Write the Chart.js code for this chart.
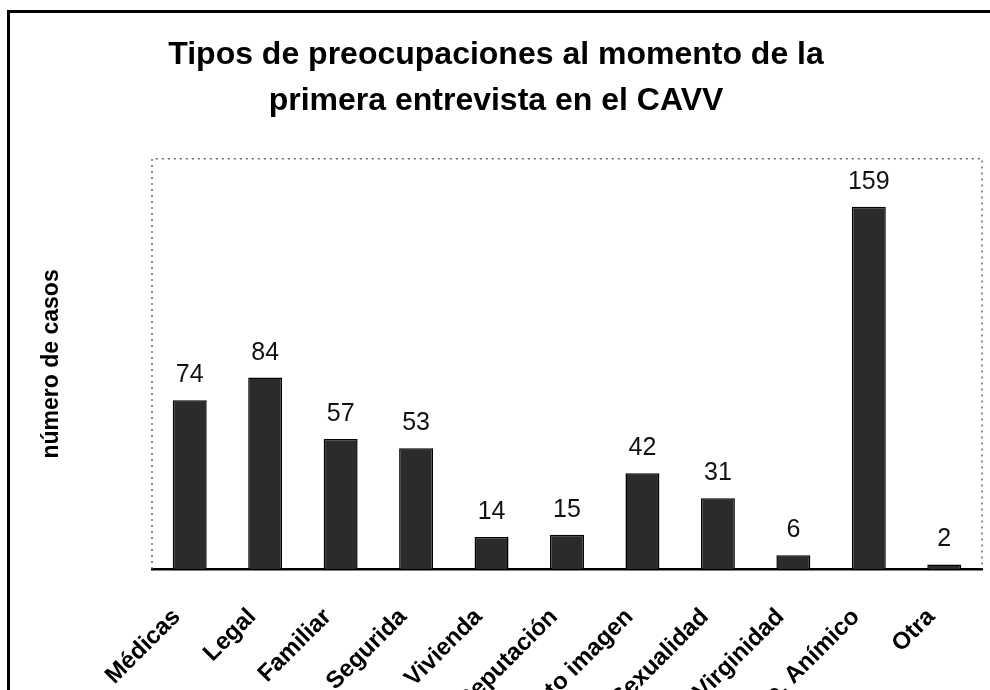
<!DOCTYPE html>
<html>
<head>
<meta charset="utf-8">
<script src="https://cdn.jsdelivr.net/npm/chart.js@4.4.0/dist/chart.umd.min.js"></script>
<style>
body{margin:0;background:#fff;overflow:hidden}
#marco{position:absolute;left:7px;top:10px;width:983px;height:800px;border-left:3px solid #000;border-top:3px solid #000}
#canvas{position:absolute;left:0;top:0}
</style>
</head>
<body>
<div id="marco"><canvas id="canvas" width="980" height="780"></canvas></div>
<script>
let categorias=['Médicas','Legal','Familiar','Segurida','Vivienda','Reputación','Auto imagen','Sexualidad','Virginidad','Edo. Anímico','Otra']
let casos=[74,84,57,53,14,15,42,31,6,159,2]
let canvas=document.getElementById('canvas')

// marco punteado del area de trazado
let marcoPunteado={
    id:'marcoPunteado',
    beforeDatasetsDraw(chart){
        let a=chart.chartArea
        let ctx=chart.ctx
        ctx.save()
        ctx.strokeStyle='#666'
        ctx.lineWidth=1.5
        ctx.setLineDash([2,4])
        ctx.beginPath()
        ctx.moveTo(a.left,a.bottom)
        ctx.lineTo(a.left,a.top)
        ctx.lineTo(a.right,a.top)
        ctx.lineTo(a.right,a.bottom)
        ctx.stroke()
        ctx.restore()
    }
}

// numeros encima de cada barra
let valores={
    id:'valores',
    afterDatasetsDraw(chart){
        let ctx=chart.ctx
        ctx.save()
        ctx.font='25px "Liberation Sans", Arial, sans-serif'
        ctx.fillStyle='#111'
        ctx.textAlign='center'
        ctx.textBaseline='alphabetic'
        chart.getDatasetMeta(0).data.forEach((bar,i)=>{
            ctx.fillText(casos[i],bar.x,bar.y-18)
        })
        ctx.restore()
    }
}

new Chart(canvas,{
    type:'bar',
    data:{
        labels:categorias,
        datasets:[{
            data:casos,
            backgroundColor:'#2b2b2b',
            borderColor:'#000',
            borderWidth:1.5,
            barPercentage:0.45,
            categoryPercentage:1
        }]
    },
    options:{
        responsive:false,
        animation:false,
        layout:{padding:{left:0,right:8,top:0,bottom:0}},
        plugins:{
            legend:{display:false},
            tooltip:{enabled:false},
            title:{
                display:true,
                text:['Tipos de preocupaciones al momento de la','primera entrevista en el CAVV'],
                color:'#000',
                font:{family:'"Liberation Sans", Arial, sans-serif',size:32,weight:'bold',lineHeight:1.45},
                padding:{top:19,bottom:34}
            }
        },
        scales:{
            x:{
                grid:{display:false,drawTicks:false},
                border:{display:true,color:'#000',width:2.5},
                ticks:{
                    color:'#000',
                    maxRotation:45,
                    minRotation:45,
                    padding:34,
                    labelOffset:-13,
                    autoSkip:false,
                    font:{family:'"Liberation Sans", Arial, sans-serif',size:24,weight:'bold'}
                },
                afterFit(scale){
                    scale.height=224
                    scale.paddingRight=0
                }
            },
            y:{
                min:0,
                max:180,
                grid:{display:false,drawTicks:false},
                border:{display:false},
                ticks:{display:false},
                title:{
                    display:true,
                    text:'número de casos',
                    color:'#000',
                    padding:{top:28,bottom:0},
                    font:{family:'"Liberation Sans", Arial, sans-serif',size:23,weight:'bold'}
                },
                afterFit(scale){scale.width=142}
            }
        }
    },
    plugins:[marcoPunteado,valores]
})
</script>
</body>
</html>
